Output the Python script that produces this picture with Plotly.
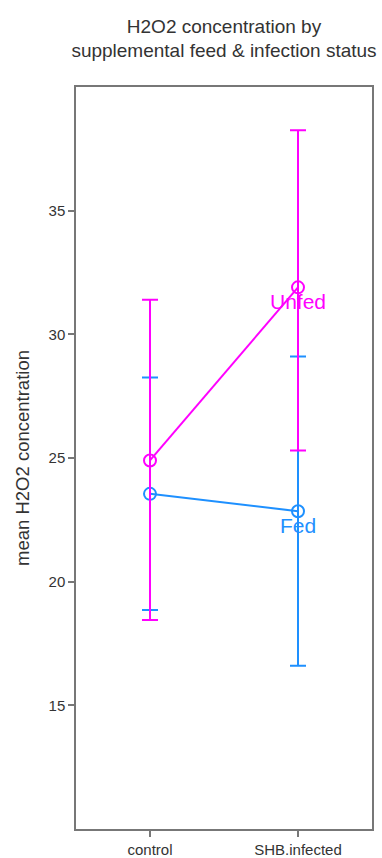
import plotly.graph_objects as go

# Treatment groups on the x axis
categories = ["control", "SHB.infected"]

# Mean H2O2 concentration per group and feed status
fed_mean = [23.55, 22.85]
fed_upper = [28.25, 29.1]
fed_lower = [18.85, 16.6]

unfed_mean = [24.9, 31.9]
unfed_upper = [31.4, 38.25]
unfed_lower = [18.45, 25.3]

y_ticks = [15, 20, 25, 30, 35]

FONT = "Liberation Sans, Arial, Helvetica, sans-serif"
TEXT = "#333333"
AXIS = "#777777"

xpos = list(range(1, len(categories) + 1))


def series(name, mean, upper, lower, color):
    plus = [u - m for u, m in zip(upper, mean)]
    minus = [m - l for m, l in zip(mean, lower)]
    return go.Scatter(
        x=xpos, y=mean, name=name, mode="lines+markers",
        line=dict(color=color, width=2),
        marker=dict(symbol="circle-open", size=12, color=color,
                    line=dict(width=2, color=color)),
        error_y=dict(type="data", symmetric=False, array=plus,
                     arrayminus=minus, color=color, thickness=2, width=8),
        showlegend=False,
    )


fig = go.Figure()
fig.add_trace(series("Fed", fed_mean, fed_upper, fed_lower, "#1E90FF"))
fig.add_trace(series("Unfed", unfed_mean, unfed_upper, unfed_lower, "#FF00FF"))

# Series labels under the last point of each line
for name, mean, color in [("Fed", fed_mean, "#1E90FF"),
                          ("Unfed", unfed_mean, "#FF00FF")]:
    fig.add_annotation(x=xpos[-1], y=mean[-1], text=name, showarrow=False,
                       yshift=-14, font=dict(family=FONT, size=21, color=color))

fig.update_layout(
    width=382, height=858,
    margin=dict(l=76, r=10, t=87, b=29),
    paper_bgcolor="white", plot_bgcolor="white",
    title=dict(text="H2O2 concentration by<br>supplemental feed & infection status",
               x=(76 + 372) / 2 / 382, xanchor="center", y=0.962, yanchor="top",
               font=dict(family=FONT, size=19, color=TEXT)),
    font=dict(family=FONT, color=TEXT),
)
fig.update_xaxes(
    range=[0.5, 2.5], tickvals=xpos, ticktext=categories,
    showgrid=False, zeroline=False, automargin=False,
    showline=True, linecolor=AXIS, linewidth=1.5, mirror=True,
    ticks="outside", ticklen=6, tickcolor=AXIS, tickwidth=1.5,
    tickfont=dict(family=FONT, size=15, color=TEXT),
)
fig.update_yaxes(
    range=[10, 40], tickvals=y_ticks,
    showgrid=False, zeroline=False, automargin=False,
    showline=True, linecolor=AXIS, linewidth=1.5, mirror=True,
    ticks="outside", ticklen=6, tickcolor=AXIS, tickwidth=1.5,
    tickfont=dict(family=FONT, size=15, color=TEXT),
    title=dict(text="mean H2O2 concentration", standoff=14,
               font=dict(family=FONT, size=18.5, color=TEXT)),
)

fig.write_html("out.html")
